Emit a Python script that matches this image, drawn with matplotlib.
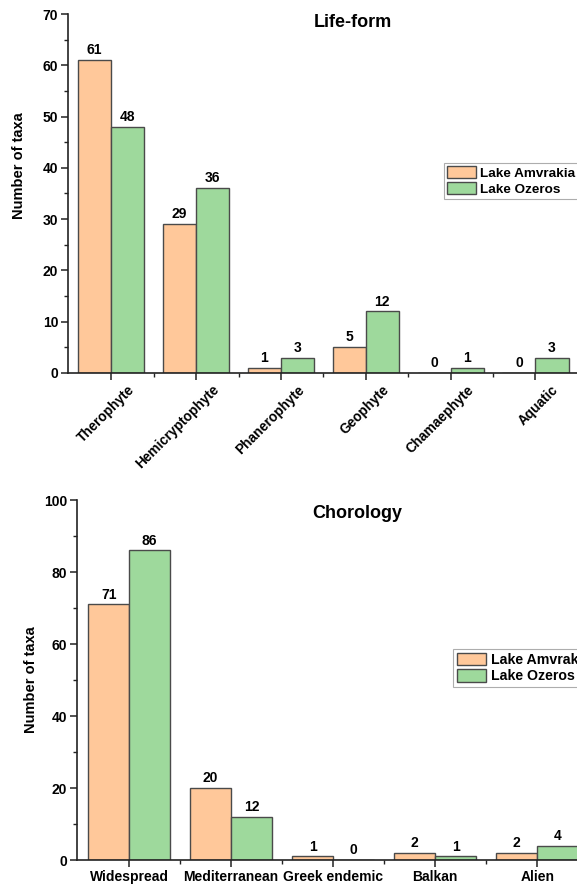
import matplotlib
matplotlib.use("Agg")
import matplotlib.pyplot as plt
import matplotlib.transforms as mtransforms
import numpy as np
from matplotlib.ticker import MultipleLocator, FixedLocator

plt.rcParams['font.family'] = ['Liberation Sans', 'DejaVu Sans']
plt.rcParams['font.weight'] = 'bold'

life_forms = ["Therophyte", "Hemicryptophyte", "Phanerophyte", "Geophyte", "Chamaephyte", "Aquatic"]
life_amvrakia = [61, 29, 1, 5, 0, 0]
life_ozeros = [48, 36, 3, 12, 1, 3]

chorology = ["Widespread", "Mediterranean", "Greek endemic", "Balkan", "Alien"]
chor_amvrakia = [71, 20, 1, 2, 2]
chor_ozeros = [86, 12, 0, 1, 4]

series_names = ["Lake Amvrakia", "Lake Ozeros"]
c_orange = "#FFC89A"
c_green = "#9ED99C"
edge = "#4a4a4a"

fig = plt.figure(figsize=(5.77, 8.88), dpi=100)

def draw(ax, cats, a, b, title, title_y, ymax, major, minor, xlim, rot, bw, legend_pos, leg_size):
    x = np.arange(len(cats))
    b1 = ax.bar(x - bw/2, a, bw, color=c_orange, edgecolor=edge, linewidth=1.0, label=series_names[0])
    b2 = ax.bar(x + bw/2, b, bw, color=c_green, edgecolor=edge, linewidth=1.0, label=series_names[1])
    for bars, vals in ((b1, a), (b2, b)):
        for r, v in zip(bars, vals):
            ax.text(r.get_x() + r.get_width()/2, v + ymax*0.008, str(v),
                    ha='center', va='bottom', fontsize=10, fontweight='bold')
    ax.set_xlim(*xlim)
    ax.set_ylim(0, ymax)
    ax.yaxis.set_major_locator(MultipleLocator(major))
    ax.yaxis.set_minor_locator(MultipleLocator(minor))
    ax.xaxis.set_major_locator(FixedLocator(x))
    ax.xaxis.set_minor_locator(FixedLocator(np.arange(len(cats) - 1) + 0.5))
    ax.spines['top'].set_visible(False)
    ax.spines['right'].set_visible(False)
    for s in ('left', 'bottom'):
        ax.spines[s].set_linewidth(1.2)
        ax.spines[s].set_color('#222222')
    ax.tick_params(axis='both', which='major', direction='out', length=5, width=1.1, colors='#222222', pad=2)
    ax.tick_params(axis='both', which='minor', direction='out', length=3, width=1.0, colors='#222222')
    ax.tick_params(axis='x', which='major', labelcolor='black')
    ax.tick_params(axis='y', which='major', labelcolor='black')
    if rot:
        ax.set_xticklabels(cats, rotation=45, ha='right', rotation_mode='anchor', fontsize=9.8, fontweight='bold')
        offset = mtransforms.ScaledTranslation(16/100, 0, fig.dpi_scale_trans)
        for lab in ax.get_xticklabels():
            lab.set_transform(lab.get_transform() + offset)
    else:
        ax.set_xticklabels(cats, fontsize=10, fontweight='bold')
    for lab in ax.get_yticklabels():
        lab.set_fontweight('bold')
        lab.set_fontsize(10)
    ax.set_ylabel("Number of taxa", fontsize=10.5, fontweight='bold')
    ax.text(0.56, title_y, title, transform=ax.transAxes, ha='center', va='top', fontsize=13, fontweight='bold')
    leg = ax.legend(loc='upper left', bbox_to_anchor=legend_pos, bbox_transform=fig.transFigure,
                    frameon=True, fancybox=False, borderpad=0.25, labelspacing=0.15,
                    handlelength=2.1, handleheight=1.0, handletextpad=0.3, borderaxespad=0,
                    prop={'weight': 'bold', 'size': leg_size})
    leg.get_frame().set_edgecolor('#999999')
    leg.get_frame().set_linewidth(0.8)

ax1 = fig.add_axes([68/577, 1 - 373/888, 1 - 68/577, (373 - 14)/888])
draw(ax1, life_forms, life_amvrakia, life_ozeros, "Life-form", 1.0, 70, 10, 5,
     (-0.51, 5.49), True, 0.39, (444/577, 1 - 163/888), 9.7)
ax1.yaxis.set_label_coords(-0.0825, 0.579)

ax2 = fig.add_axes([77/577, 1 - 860/888, 1 - 77/577, (860 - 500)/888])
draw(ax2, chorology, chor_amvrakia, chor_ozeros, "Chorology", 0.985, 100, 20, 10,
     (-0.51, 4.39), False, 0.40, (453/577, 1 - 649/888), 10.2)
ax2.yaxis.set_label_coords(-0.078, 0.5)

fig.savefig("out.png", dpi=100)
